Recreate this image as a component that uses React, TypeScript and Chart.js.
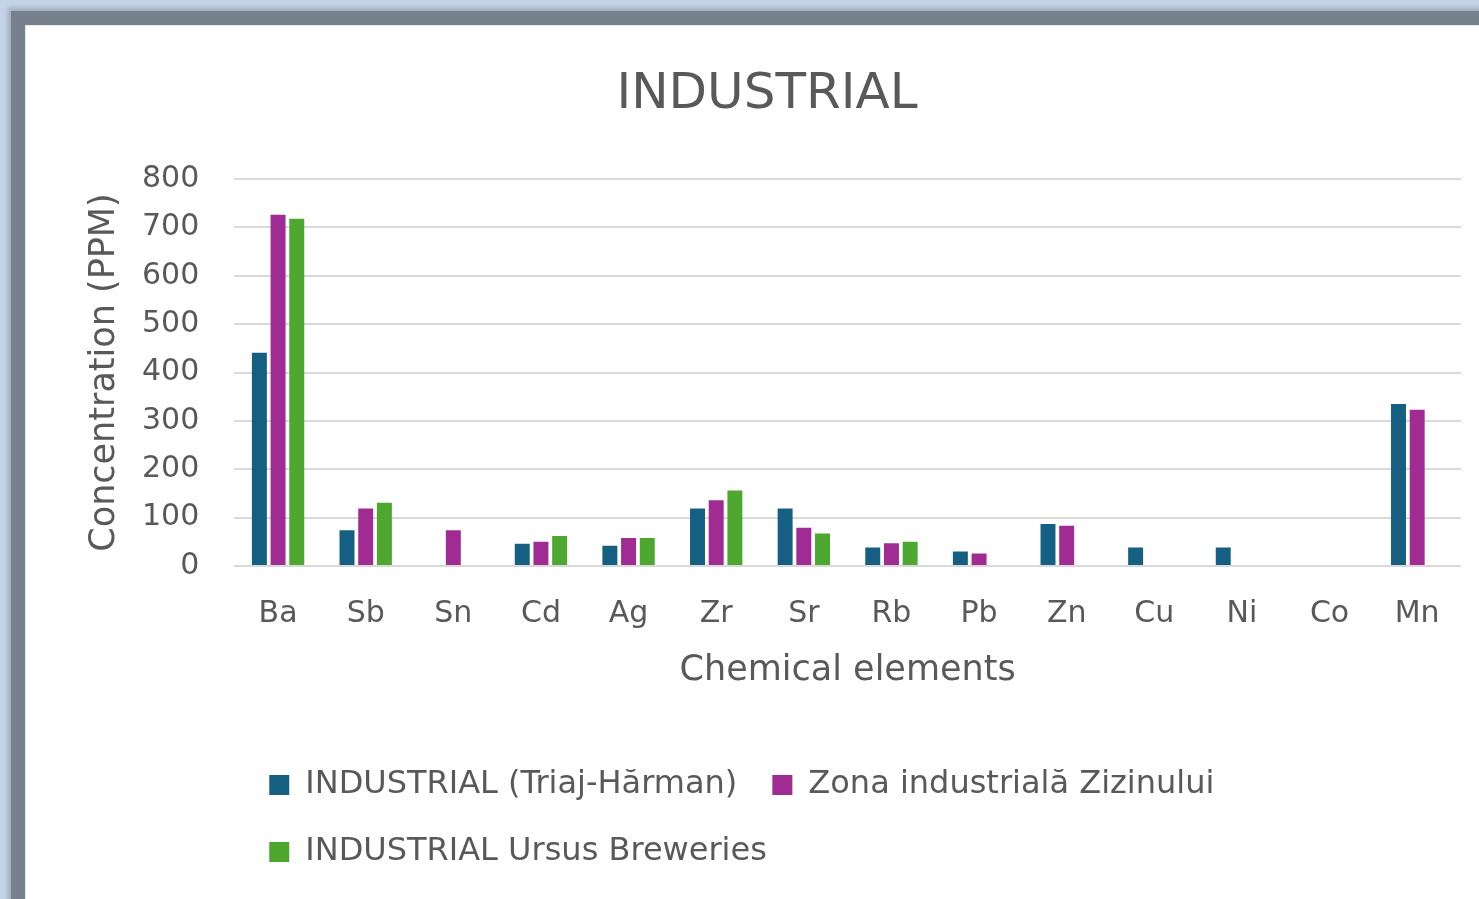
import React, { useEffect, useRef } from "react";
import { Chart, registerables } from "chart.js";

Chart.register(...registerables);

const categories = ["Ba", "Sb", "Sn", "Cd", "Ag", "Zr", "Sr", "Rb", "Pb", "Zn", "Cu", "Ni", "Co", "Mn"];

const triajHarman = [441, 74, null, 46, 42, 119, 119, 38, 30, 87, 38, 38, null, 335];
const zonaZizinului = [726, 119, 74, 50, 58, 136, 79, 47, 26, 83, null, null, null, 323];
const ursusBreweries = [718, 131, null, 62, 58, 156, 67, 50, null, null, null, null, null, null];

const seriesNames = [
  "INDUSTRIAL (Triaj-Hărman)",
  "Zona industrială Zizinului",
  "INDUSTRIAL Ursus Breweries",
];
const seriesColors = ["#156082", "#A02B93", "#4EA72E"];

const yTicks = [0, 100, 200, 300, 400, 500, 600, 700, 800];

const chartTitle = "INDUSTRIAL";
const xTitle = "Chemical elements";
const yTitle = "Concentration (PPM)";

const FONT = "'DejaVu Sans', 'Liberation Sans', sans-serif";
const TEXT = "#595959";

export default function App() {
  const ref = useRef<HTMLCanvasElement | null>(null);

  useEffect(() => {
    if (!ref.current) return;
    const data = [triajHarman, zonaZizinului, ursusBreweries];
    const chart = new Chart(ref.current, {
      type: "bar",
      data: {
        labels: categories,
        datasets: data.map((d, i) => ({
          label: seriesNames[i],
          data: d,
          backgroundColor: seriesColors[i],
          borderWidth: 0,
          categoryPercentage: 0.64,
          barPercentage: 0.8,
        })),
      },
      options: {
        responsive: false,
        animation: false,
        layout: { padding: { left: 47, right: 19, top: 0, bottom: 22 } },
        plugins: {
          title: {
            display: true,
            text: chartTitle,
            color: TEXT,
            font: { family: FONT, size: 50, weight: "normal", lineHeight: 1.2 },
            padding: { top: 39, bottom: 54 },
          },
          legend: {
            position: "bottom",
            align: "start",
            fullSize: false,
            labels: {
              color: TEXT,
              font: { family: FONT, size: 32, lineHeight: 1.2 },
              boxWidth: 20,
              boxHeight: 20,
              padding: 35,
            },
          },
          tooltip: { enabled: false },
        },
        scales: {
          x: {
            grid: { display: false, drawTicks: false },
            border: { display: false },
            ticks: {
              color: TEXT,
              font: { family: FONT, size: 30, lineHeight: 1.2 },
              padding: 30,
              maxRotation: 0,
              autoSkip: false,
            },
            title: {
              display: true,
              text: xTitle,
              color: TEXT,
              font: { family: FONT, size: 35, lineHeight: 1.2 },
              padding: { top: -12, bottom: 42 },
            },
          },
          y: {
            min: 0,
            max: 800,
            afterBuildTicks: (axis: any) => {
              axis.ticks = yTicks.map((v) => ({ value: v }));
            },
            grid: { color: "#d9d9d9", lineWidth: 2, drawTicks: false },
            border: { display: false },
            ticks: {
              color: TEXT,
              font: { family: FONT, size: 30, lineHeight: 1.2 },
              padding: 35,
            },
            title: {
              display: true,
              text: yTitle,
              color: TEXT,
              font: { family: FONT, size: 35, lineHeight: 1.2 },
              padding: { top: 11, bottom: -19 },
            },
          },
        },
      },
    });
    return () => chart.destroy();
  }, []);

  return (
    <div
      style={{
        position: "fixed",
        inset: 0,
        overflow: "hidden",
        background: "#c6d4e7",
      }}
    >
      <div
        style={{
          position: "absolute",
          left: 11,
          top: 11,
          width: 1520,
          height: 950,
          background: "#76818d",
          boxShadow: "0 0 5px 3px #9eabbc",
        }}
      />
      <div
        style={{
          position: "absolute",
          left: 25,
          top: 25,
          width: 1500,
          height: 940,
          background: "#ffffff",
          borderLeft: "1px solid #e4e6e8",
          borderTop: "1px solid #e4e6e8",
        }}
      >
        <canvas
          ref={ref}
          width={1454}
          height={874}
          style={{ display: "block", width: 1454, height: 874 }}
        />
      </div>
    </div>
  );
}
